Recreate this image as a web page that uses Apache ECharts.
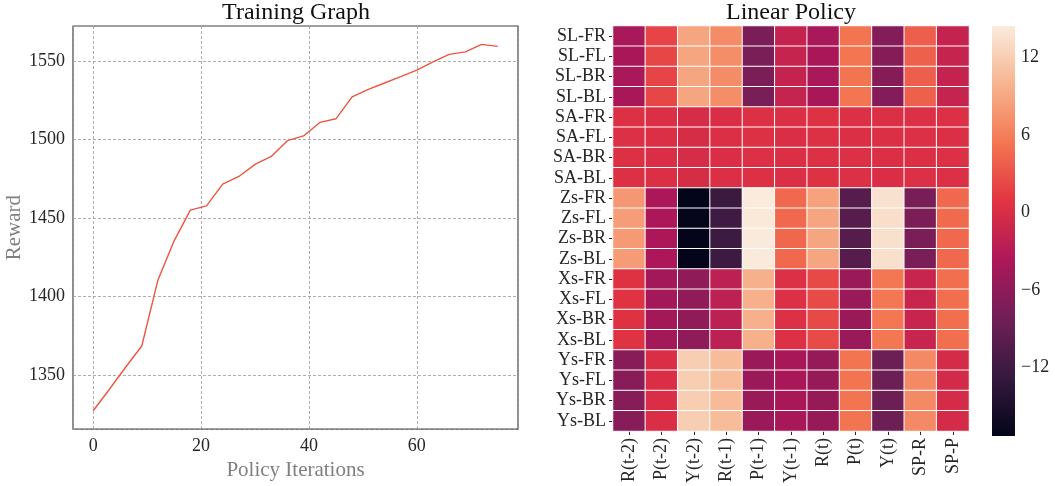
<!DOCTYPE html>
<html>
<head>
<meta charset="utf-8">
<script src="https://cdn.jsdelivr.net/npm/echarts@6/dist/echarts.min.js"></script>
<style>
html,body{margin:0;padding:0;background:#fff;}
#chart{width:1055px;height:486px;}
</style>
</head>
<body>
<div id="chart"></div>
<script>
// ---- Training graph data ----
const iterations = [0,3,6,9,12,15,18,21,24,27,30,33,36,39,42,45,48,51,54,57,60,63,66,69,72,75];
const rewards = [1327.3,1341,1355,1368.5,1410.6,1435.5,1455,1457.8,1471.6,1476.5,1484.2,1489.2,1499.3,1502.3,1510.9,1513.2,1527.2,1532,1536,1540,1544.2,1549.5,1554.2,1555.8,1560.6,1559.3];

// ---- Linear policy heatmap data ----
const policyCols = ['R(t-2)','P(t-2)','Y(t-2)','R(t-1)','P(t-1)','Y(t-1)','R(t)','P(t)','Y(t)','SP-R','SP-P'];
const policyRowNames = ['SL-FR','SL-FL','SL-BR','SL-BL','SA-FR','SA-FL','SA-BR','SA-BL','Zs-FR','Zs-FL','Zs-BR','Zs-BL','Xs-FR','Xs-FL','Xs-BR','Xs-BL','Ys-FR','Ys-FL','Ys-BR','Ys-BL'];
const slFR = [-4.0, 2.0, 8.8, 7.0, -7.4, -1.7, -4.0, 5.2, -6.8, 3.8, -1.7];
const slFL = [-3.9, 2.1, 8.9, 7.1, -7.5, -1.6, -3.9, 5.3, -6.7, 3.9, -1.6];
const slBR = [-4.0, 2.0, 8.8, 7.0, -7.4, -1.7, -4.0, 5.2, -6.7, 3.8, -1.7];
const slBL = [-3.9, 2.1, 8.9, 7.1, -7.5, -1.6, -3.9, 5.3, -6.8, 3.9, -1.6];
const saFR = [0.4, 0.2, -0.2, 0.1, 0.4, 0.2, 0.5, 0.3, 0.2, 0.3, 0.3];
const saFL = [0.3, 0.2, -0.1, 0.2, 0.4, 0.1, 0.4, 0.2, 0.2, 0.3, 0.2];
const saBR = [0.4, 0.1, -0.2, 0.1, 0.3, 0.2, 0.4, 0.3, 0.2, 0.2, 0.3];
const saBL = [0.4, 0.2, -0.1, 0.2, 0.4, 0.2, 0.5, 0.3, 0.1, 0.3, 0.3];
const zsFR = [7.8, -3.8, -17.28, -12.3, 14.42, 4.5, 8.6, -10.3, 13.6, -7.6, 4.5];
const zsFL = [8.2, -3.8, -17.1, -12.0, 14.2, 4.5, 8.9, -10.2, 13.4, -7.4, 4.6];
const zsBR = [8.0, -3.8, -17.2, -12.2, 14.3, 4.4, 8.8, -10.3, 13.5, -7.5, 4.5];
const zsBL = [8.1, -3.7, -17.2, -12.2, 14.3, 4.5, 8.9, -10.2, 13.5, -7.5, 4.5];
const xsFR = [0.6, -4.4, -5.9, -2.3, 9.6, 0.3, 2.3, -5.1, 5.4, -1.4, 4.8];
const xsFL = [0.7, -4.4, -5.9, -2.3, 9.6, 0.3, 2.4, -5.1, 5.4, -1.4, 4.8];
const xsBR = [0.6, -4.4, -5.9, -2.3, 9.6, 0.3, 2.3, -5.1, 5.4, -1.4, 4.9];
const xsBL = [0.7, -4.4, -5.9, -2.3, 9.6, 0.3, 2.4, -5.1, 5.4, -1.4, 4.8];
const ysFR = [-6.5, 0.1, 12.0, 10.6, -5.1, -4.1, -5.4, 5.2, -8.5, 6.8, -0.4];
const ysFL = [-6.5, 0.1, 12.0, 10.6, -5.1, -4.1, -5.4, 5.2, -8.5, 6.8, -0.5];
const ysBR = [-6.6, 0.1, 12.0, 10.5, -5.1, -4.1, -5.4, 5.2, -8.5, 6.8, -0.4];
const ysBL = [-6.5, 0.1, 12.0, 10.6, -5.1, -4.1, -5.4, 5.2, -8.5, 6.8, -0.4];
const policyRows = [slFR,slFL,slBR,slBL,saFR,saFL,saBR,saBL,zsFR,zsFL,zsBR,zsBL,xsFR,xsFL,xsBR,xsBL,ysFR,ysFL,ysBR,ysBL];
const colorbarTicks = [-12,-6,0,6,12];
const vMin = -17.28, vMax = 14.42;

// rocket colormap stops (dark -> light)
const rocket = ['#03051a','#35193e','#701f57','#ad1759','#e13342','#f37651','#f6b48f','#faebdd'];

const heatData = [];
policyRows.forEach((row, r) => row.forEach((v, c) => heatData.push([c, r, v])));

const FONT = '"Liberation Serif", "DejaVu Serif", serif';
const TXT = '#262626';

const chart = echarts.init(document.getElementById('chart'), null, {renderer: 'canvas'});
chart.setOption({
  animation: false,
  backgroundColor: '#fff',
  textStyle: {fontFamily: FONT},
  graphic: [
    {type: 'text', x: 296, y: 1, style: {text: 'Training Graph', align: 'center', verticalAlign: 'top', fontFamily: FONT, fontSize: 24, fill: '#111'}},
    {type: 'text', x: 791, y: 1, style: {text: 'Linear Policy', align: 'center', verticalAlign: 'top', fontFamily: FONT, fontSize: 24, fill: '#111'}}
  ],
  grid: [
    {left: 73, top: 26, width: 445, height: 411, show: true, borderColor: '#444', borderWidth: 1.2, backgroundColor: 'transparent', containLabel: false},
    {left: 613, top: 26, width: 356, height: 410, containLabel: false},
    {left: 992, top: 26, width: 23, height: 410, containLabel: false}
  ],
  xAxis: [
    {gridIndex: 0, type: 'value', min: -3.75, max: 78.75, splitNumber: 4,
     axisLine: {show: false}, axisTick: {show: false},
     axisLabel: {showMinLabel: false, showMaxLabel: false, color: TXT, fontSize: 18, fontFamily: FONT, margin: 8,
       formatter: v => String(v)},
     splitLine: {show: true, lineStyle: {color: '#999', type: [3, 2], width: 0.8}},
     name: 'Policy Iterations', nameLocation: 'middle', nameGap: 21,
     nameTextStyle: {color: '#808080', fontSize: 21, fontFamily: FONT, verticalAlign: 'top'}},
    {gridIndex: 1, type: 'category', data: policyCols,
     axisLine: {show: false}, axisTick: {show: true, length: 4, alignWithLabel: true, lineStyle: {color: TXT}},
     axisLabel: {interval: 0, rotate: 90, color: TXT, fontSize: 18, fontFamily: FONT, margin: 7},
     splitLine: {show: false}},
    {gridIndex: 2, type: 'value', min: 0, max: 1, show: false}
  ],
  yAxis: [
    {gridIndex: 0, type: 'value', min: 1315.6, max: 1572.3, splitNumber: 5,
     axisLine: {show: false}, axisTick: {show: false},
     axisLabel: {showMinLabel: false, showMaxLabel: false, color: TXT, fontSize: 18, fontFamily: FONT, margin: 8,
       formatter: v => String(v)},
     splitLine: {show: true, lineStyle: {color: '#999', type: [3, 2], width: 0.8}},
     name: 'Reward', nameLocation: 'middle', nameGap: 39,
     nameTextStyle: {color: '#808080', fontSize: 21, fontFamily: FONT}},
    {gridIndex: 1, type: 'category', data: policyRowNames, inverse: true,
     axisLine: {show: false}, axisTick: {show: true, length: 4, alignWithLabel: true, interval: 0, lineStyle: {color: TXT}},
     axisLabel: {interval: 0, color: TXT, fontSize: 18, fontFamily: FONT, margin: 7},
     splitLine: {show: false}},
    {gridIndex: 2, type: 'value', min: vMin, max: vMax, position: 'right',
     axisLine: {show: false},
     axisTick: {show: true, length: 4, customValues: colorbarTicks, lineStyle: {color: TXT}},
     axisLabel: {customValues: colorbarTicks, color: TXT, fontSize: 18, fontFamily: FONT, margin: 6,
       formatter: v => (v < 0 ? '\u2212' + Math.abs(v) : String(v))},
     splitLine: {show: false}}
  ],
  visualMap: {
    show: false, type: 'continuous', min: vMin, max: vMax, seriesIndex: 1, dimension: 2,
    inRange: {color: rocket}
  },
  series: [
    {type: 'line', xAxisIndex: 0, yAxisIndex: 0, data: iterations.map((x, i) => [x, rewards[i]]),
     showSymbol: false, symbol: 'none', lineStyle: {color: '#ee5540', width: 1.4}},
    {type: 'heatmap', xAxisIndex: 1, yAxisIndex: 1, data: heatData,
     itemStyle: {borderColor: '#fff', borderWidth: 1}},
    {type: 'custom', xAxisIndex: 2, yAxisIndex: 2, data: [[0, vMin]], silent: true,
     renderItem: function (params, api) {
       const p0 = api.coord([0, vMax]);
       const p1 = api.coord([1, vMin]);
       const stops = rocket.slice().reverse().map((c, i, a) => ({offset: i / (a.length - 1), color: c}));
       return {type: 'rect', shape: {x: p0[0], y: p0[1], width: p1[0] - p0[0], height: p1[1] - p0[1]},
         style: {fill: new echarts.graphic.LinearGradient(0, 0, 0, 1, stops)}};
     }}
  ]
});
</script>
</body>
</html>
